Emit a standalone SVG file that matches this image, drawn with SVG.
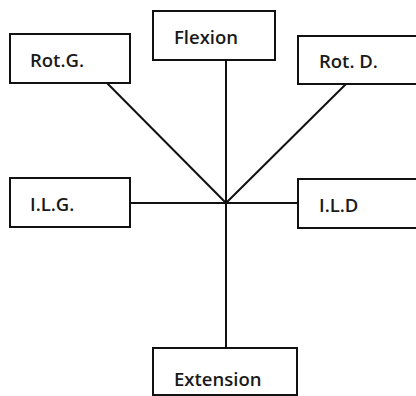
<svg xmlns="http://www.w3.org/2000/svg" width="416" height="396" viewBox="0 0 416 396">
<style>
rect.box{fill:#fff;stroke:#111;stroke-width:2}
.lbl{font-family:"Open Sans","Liberation Sans",sans-serif;font-size:18.5px;font-weight:600;fill:#1a1a1a}
.conn line{stroke:#111;stroke-width:2}
</style>
<rect width="416" height="396" fill="#fff"/>
<g class="conn" id="connectors">
<line x1="226" y1="60" x2="226" y2="348"/>
<line x1="130" y1="203" x2="298" y2="203"/>
<line x1="107" y1="83" x2="226" y2="203"/>
<line x1="346" y1="84" x2="226" y2="203"/>
</g>
<g id="rotg"><rect class="box" x="10" y="34" width="120" height="49"/><text class="lbl" x="30" y="67">Rot.G.</text></g>
<g id="flexion"><rect class="box" x="153" y="11" width="122" height="49"/><text class="lbl" x="174" y="44">Flexion</text></g>
<g id="rotd"><rect class="box" x="298" y="36" width="122" height="48"/><text class="lbl" x="319" y="68">Rot. D.</text></g>
<g id="ilg"><rect class="box" x="10" y="178" width="120" height="49"/><text class="lbl" x="30" y="211">I.L.G.</text></g>
<g id="ild"><rect class="box" x="298" y="179" width="122" height="49"/><text class="lbl" x="319" y="212">I.L.D</text></g>
<g id="extension"><rect class="box" x="153" y="348" width="144" height="47"/><text class="lbl" x="174" y="386">Extension</text></g>
</svg>
